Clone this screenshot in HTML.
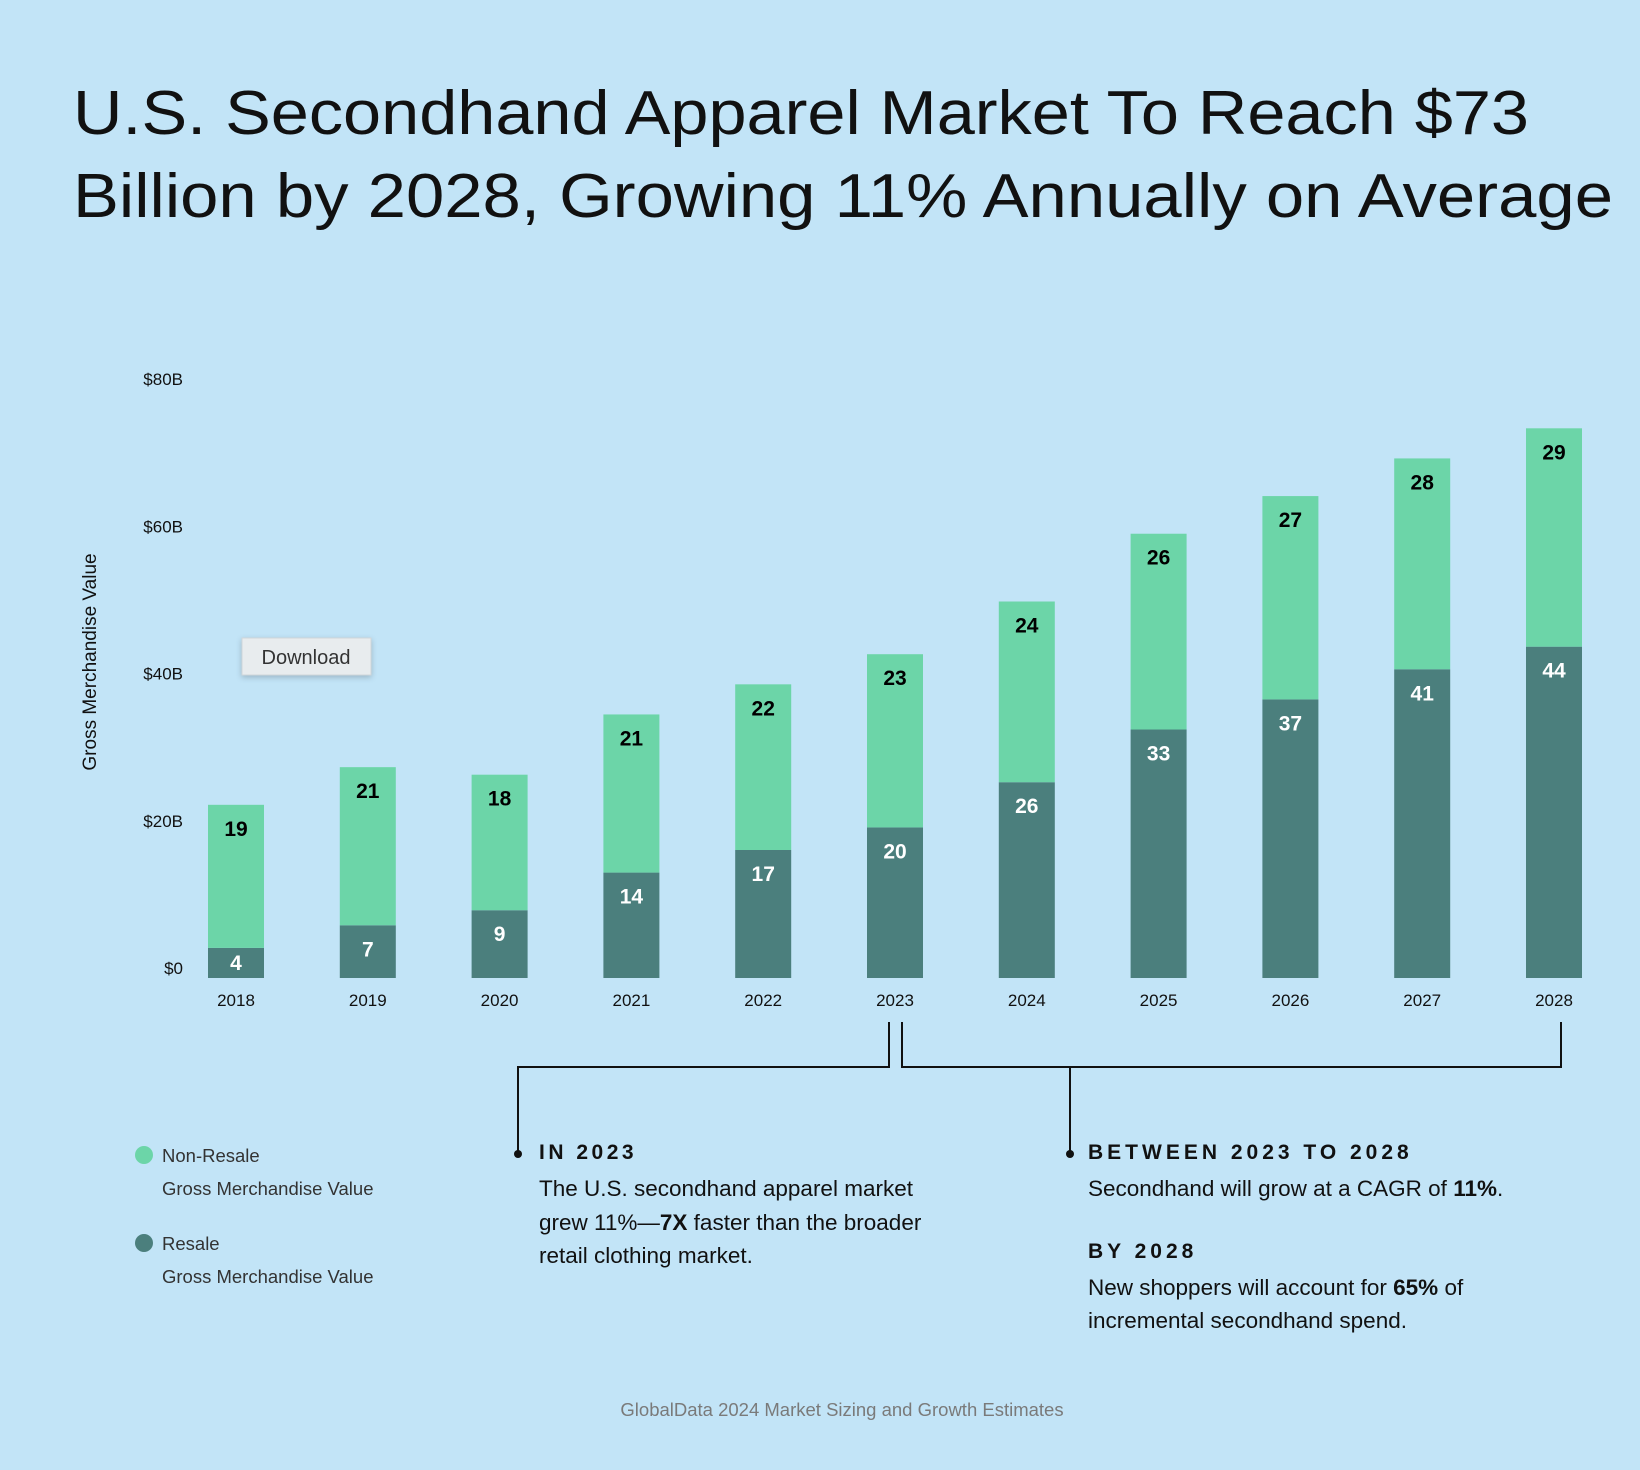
<!DOCTYPE html>
<html><head><meta charset="utf-8"><style>
html,body{margin:0;padding:0;background:#c2e4f7;}
svg{display:block;font-family:"Liberation Sans",sans-serif;}
</style></head><body>
<svg width="1640" height="1470" viewBox="0 0 1640 1470">
<rect width="1640" height="1470" fill="#c2e4f7"/>
<text x="73" y="134" font-size="62" fill="#111" textLength="1456" lengthAdjust="spacingAndGlyphs">U.S. Secondhand Apparel Market To Reach $73</text>
<text x="73" y="217" font-size="62" fill="#111" textLength="1540" lengthAdjust="spacingAndGlyphs">Billion by 2028, Growing 11% Annually on Average</text>
<g id="axis"></g>
<g id="bars"></g>
<text transform="translate(96,662) rotate(-90)" text-anchor="middle" font-size="19" fill="#111">Gross Merchandise Value</text>
<g>
<rect x="242" y="638" width="129" height="37" fill="#e8ecee" stroke="#cfd6da" stroke-width="1" style="filter:drop-shadow(0 2px 3px rgba(0,0,0,0.2))"/>
<text x="306" y="664" text-anchor="middle" font-size="20" fill="#333">Download</text>
</g>
<g fill="none" stroke="#111" stroke-width="2">
<polyline points="889,1022 889,1067 518,1067 518,1152"/>
<polyline points="902,1022 902,1067 1561,1067 1561,1022"/>
<line x1="1070" y1="1067" x2="1070" y2="1152"/>
</g>
<circle cx="518" cy="1154" r="4" fill="#111"/>
<circle cx="1070" cy="1154" r="4" fill="#111"/>
<g font-size="21" fill="#111">
<text x="539" y="1159" font-weight="bold" letter-spacing="3.5">IN 2023</text>
<text x="539" y="1196" font-size="22.5">The U.S. secondhand apparel market</text>
<text x="539" y="1230" font-size="22.5">grew 11%—<tspan font-weight="bold">7X</tspan> faster than the broader</text>
<text x="539" y="1263" font-size="22.5">retail clothing market.</text>
</g>
<g font-size="21" fill="#111">
<text x="1088" y="1159" font-weight="bold" letter-spacing="4">BETWEEN 2023 TO 2028</text>
<text x="1088" y="1196" font-size="22.5">Secondhand will grow at a CAGR of <tspan font-weight="bold">11%</tspan>.</text>
<text x="1088" y="1258" font-weight="bold" letter-spacing="4">BY 2028</text>
<text x="1088" y="1295" font-size="22.5">New shoppers will account for <tspan font-weight="bold">65%</tspan> of</text>
<text x="1088" y="1328" font-size="22.5">incremental secondhand spend.</text>
</g>
<g font-size="18.5" fill="#333">
<g>
<circle cx="144" cy="1155" r="9" fill="#6cd5a8"/>
<text x="162" y="1162">Non-Resale</text>
<text x="162" y="1195">Gross Merchandise Value</text>
</g>
<g>
<circle cx="144" cy="1243" r="9" fill="#4b7f7d"/>
<text x="162" y="1250">Resale</text>
<text x="162" y="1283">Gross Merchandise Value</text>
</g>
</g>
<text x="842" y="1416" text-anchor="middle" font-size="18.5" fill="#7a7a7a">GlobalData 2024 Market Sizing and Growth Estimates</text>
</svg>
<script>
const years = ['2018','2019','2020','2021','2022','2023','2024','2025','2026','2027','2028'];
const resale = [4,7,9,14,17,20,26,33,37,41,44];
const nonResale = [19,21,18,21,22,23,24,26,27,28,29];
const yTicks = [0,20,40,60,80];
const yTickLabels = ['$0','$20B','$40B','$60B','$80B'];

const NS='http://www.w3.org/2000/svg';
const base=978, unit=7.53, x0=208, step=131.8, bw=56;
const y=v=>base-v*unit;
const yTick=v=>968-v*7.36;
const x=i=>x0+i*step;
function mk(tag,attrs,parent){const e=document.createElementNS(NS,tag);for(const k in attrs)e.setAttribute(k,attrs[k]);parent.appendChild(e);return e;}
const axis=document.getElementById('axis'), bars=document.getElementById('bars');
yTicks.forEach((t,i)=>{
  const tx=mk('text',{x:183,y:yTick(t)+6,'text-anchor':'end','font-size':17,fill:'#111'},axis);
  
  
  tx.textContent=yTickLabels[i];
});
years.forEach((yr,i)=>{
  const g=mk('g',{},bars);
  
  
  const r=resale[i], n=nonResale[i];
  const rb=mk('rect',{x:x(i),y:y(r),width:bw,height:r*unit,fill:'#4b7f7d'},g);
  
  
  const nb=mk('rect',{x:x(i),y:y(r+n),width:bw,height:n*unit,fill:'#6cd5a8'},g);
  
  
  const cx=x(i)+bw/2;
  const rl=mk('text',{x:cx,y:Math.min(y(r)+31,(y(r)+base)/2+7),'text-anchor':'middle','font-size':21,'font-weight':'bold',fill:'#fff'},g);
  
  
  rl.textContent=r;
  const nl=mk('text',{x:cx,y:y(r+n)+31,'text-anchor':'middle','font-size':21,'font-weight':'bold',fill:'#000'},g);
  
  
  nl.textContent=n;
  const yl=mk('text',{x:cx,y:1006,'text-anchor':'middle','font-size':17,fill:'#111'},g);
  
  
  yl.textContent=yr;
});
</script>
</body></html>
